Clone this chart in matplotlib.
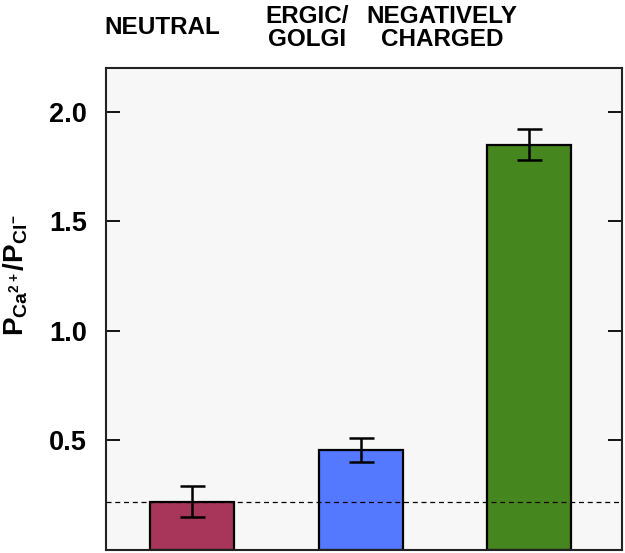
import matplotlib
matplotlib.use('Agg')
import matplotlib.pyplot as plt

plt.rcParams['font.family'] = ['Liberation Sans', 'DejaVu Sans']
plt.rcParams['mathtext.fontset'] = 'custom'
plt.rcParams['mathtext.bf'] = 'Liberation Sans:bold'
plt.rcParams['mathtext.rm'] = 'Liberation Sans:bold'

# data
groups = ['NEUTRAL', 'ERGIC/\nGOLGI', 'NEGATIVELY\nCHARGED']
ratio = [0.22, 0.455, 1.85]
err = [0.07, 0.055, 0.07]
bar_colors = ['#a8365a', '#5479ff', '#45861e']
baseline = 0.22
yticks = [0.5, 1.0, 1.5, 2.0]

fig = plt.figure(figsize=(6.25, 5.53), dpi=100)
ax1 = fig.add_axes([0.170, 0.006, 0.825, 0.871])
ax1.set_facecolor('#f7f7f7')

xpos = [0, 1, 2]
ax1.bar(xpos, ratio, width=0.5, color=bar_colors, edgecolor='black', linewidth=1.6, zorder=2)
ax1.errorbar(xpos, ratio, yerr=err, fmt='none', ecolor='black', elinewidth=1.8,
             capsize=9, capthick=1.8, zorder=3)
ax1.axhline(baseline, color='black', linestyle=(0, (4, 3)), linewidth=0.9, zorder=4)

ax1.set_xlim(-0.51, 2.55)
ax1.set_ylim(0, 2.2)
ax1.set_xticks([])
ax1.set_yticks(yticks)
ax1.set_yticklabels(['%.1f' % t for t in yticks], fontsize=19.5, fontweight='bold')
ax1.tick_params(axis='y', direction='in', length=10, width=1.3, right=True, pad=14)
for s in ax1.spines.values():
    s.set_linewidth(1.5)
    s.set_color('#222222')

ax1.set_ylabel(r'$\mathbf{P}_{\mathbf{Ca}^{\mathbf{2+}}}/\mathbf{P}_{\mathbf{Cl}^{\mathbf{-}}}$',
               fontsize=20)
ax1.yaxis.set_label_coords(-0.148, 0.57)

# group labels above the plot
label_x = [162, 307, 442]
for x, g in zip(label_x, groups):
    fig.text(x / 625, 1 - 28 / 553, g, ha='center', va='center', fontsize=17.5,
             fontweight='bold', linespacing=1.0)

fig.savefig('out.png', dpi=100)
